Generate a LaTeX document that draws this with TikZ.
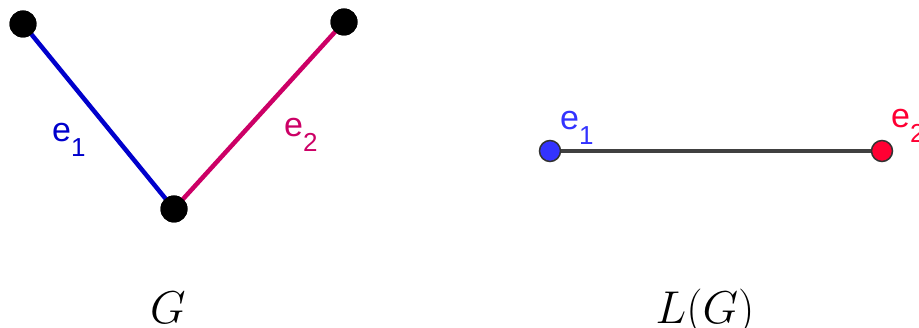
\RequirePackage{fix-cm}
\documentclass[tikz,border=0pt]{standalone}
\usepackage{fontspec}
\setmainfont{Liberation Sans}
\definecolor{eblue}{HTML}{0000CC}
\definecolor{emag}{HTML}{CC0066}
\definecolor{lblue}{HTML}{3333FF}
\definecolor{lred}{HTML}{FF0033}
\definecolor{lgray}{HTML}{404040}
\newcommand{\elbl}[1]{\fontsize{34}{34}\selectfont e\raisebox{-15pt}{\fontsize{26}{26}\selectfont #1}}
\begin{document}
\begin{tikzpicture}[x=1pt,y=-1pt,
  vtx/.style={circle,fill=black,inner sep=0pt,minimum size=27pt},
  lvtx/.style={circle,draw=black!80,line width=1.5pt,inner sep=0pt,minimum size=21pt},
  edge/.style={line width=4.5pt},
  lbl/.style={anchor=base west,inner sep=0pt},
  title/.style={anchor=base,inner sep=0pt,font=\fontsize{46}{50}\selectfont}]
\useasboundingbox (0,0) rectangle (919,328);
% graph G
\node[vtx] (a) at (23,24) {};
\node[vtx] (b) at (344,22) {};
\node[vtx] (c) at (174,209) {};
\draw[edge,eblue] (a.center) -- (c.center);
\draw[edge,emag] (c.center) -- (b.center);
\node[vtx] at (a) {};
\node[vtx] at (b) {};
\node[vtx] at (c) {};
\node[lbl,text=eblue] (l1) at (52,142) {\elbl{1}};
\node[lbl,text=emag] (l2) at (284,137) {\elbl{2}};
% line graph L(G)
\coordinate (p) at (550,151);
\coordinate (q) at (882,151);
\draw[line width=4pt,lgray] (p) -- (q);
\node[lvtx,fill=lblue] (u) at (p) {};
\node[lvtx,fill=lred] (v) at (q) {};
\node[lbl,text=lblue] (m1) at (560,130) {\elbl{1}};
\node[lbl,text=lred] (m2) at (891,128) {\elbl{2}};
% titles
\node[title] (tg) at (168,324) {$G$};
\node[title] (tl) at (705,324) {$L(G)$};
\end{tikzpicture}
\end{document}
